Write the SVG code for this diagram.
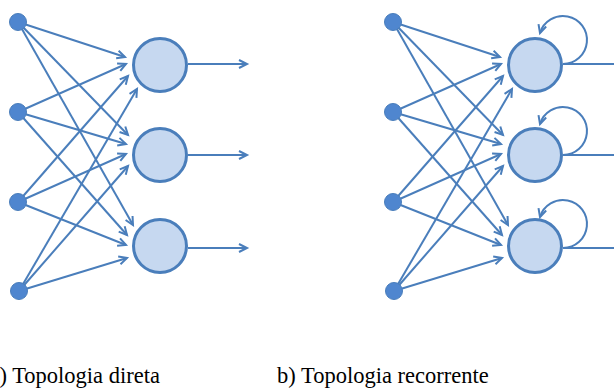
<svg xmlns="http://www.w3.org/2000/svg" width="614" height="390" viewBox="0 0 614 390">
  <style>
    .edge { fill: none; stroke: #4a7ebb; stroke-width: 2; }
    .arr { marker-end: url(#head); }
    .inp { fill: #4f86cf; stroke: #4a7ebb; stroke-width: 1; }
    .neu { fill: #c6d8f0; stroke: #4a7ebb; stroke-width: 3; }
    .cap { font-size: 22.5px; fill: #000; }
  </style>
  <defs>
    <marker id="head" markerUnits="userSpaceOnUse" markerWidth="12" markerHeight="12" refX="9" refY="5" orient="auto">
      <path d="M1,1 L9,5 L1,9" fill="none" stroke="#4a7ebb" stroke-width="2" stroke-linejoin="miter"/>
    </marker>
  </defs>

  <!-- connectors -->
  <g id="connectors" class="edge">
    <!-- a) feed-forward -->
    <g class="arr">
      <line x1="18" y1="22" x2="125" y2="57"/>
      <line x1="18" y1="112" x2="126" y2="64"/>
      <line x1="18" y1="202" x2="128" y2="76"/>
      <line x1="19" y1="291" x2="137" y2="89"/>
      <line x1="18" y1="22" x2="128" y2="135"/>
      <line x1="18" y1="112" x2="126" y2="144"/>
      <line x1="18" y1="202" x2="126" y2="154"/>
      <line x1="19" y1="291" x2="128" y2="166"/>
      <line x1="18" y1="22" x2="133" y2="225"/>
      <line x1="18" y1="112" x2="127" y2="235"/>
      <line x1="18" y1="202" x2="126" y2="245"/>
      <line x1="19" y1="291" x2="127" y2="258"/>
      <line x1="188" y1="64" x2="247" y2="64"/>
      <line x1="188" y1="155" x2="247" y2="155"/>
      <line x1="188" y1="248" x2="247" y2="248"/>
    </g>
    <!-- b) recurrent -->
    <g class="arr">
      <line x1="393" y1="22" x2="500" y2="57"/>
      <line x1="393" y1="112" x2="501" y2="64"/>
      <line x1="393" y1="202" x2="503" y2="76"/>
      <line x1="394" y1="291" x2="512" y2="89"/>
      <line x1="393" y1="22" x2="503" y2="135"/>
      <line x1="393" y1="112" x2="501" y2="144"/>
      <line x1="393" y1="202" x2="501" y2="154"/>
      <line x1="394" y1="291" x2="503" y2="166"/>
      <line x1="393" y1="22" x2="508" y2="225"/>
      <line x1="393" y1="112" x2="502" y2="235"/>
      <line x1="393" y1="202" x2="501" y2="245"/>
      <line x1="394" y1="291" x2="502" y2="258"/>
      <path d="M563,64 A24,24 0 1 0 540,33"/>
      <path d="M563,155 A24,24 0 1 0 540,124"/>
      <path d="M563,248 A24,24 0 1 0 540,217"/>
    </g>
    <line x1="563" y1="64" x2="614" y2="64"/>
    <line x1="563" y1="155" x2="614" y2="155"/>
    <line x1="563" y1="248" x2="614" y2="248"/>
  </g>

  <!-- a) nodes -->
  <g id="a-in1"><circle class="inp" cx="18" cy="22" r="8.5"/></g>
  <g id="a-in2"><circle class="inp" cx="18" cy="112" r="8.5"/></g>
  <g id="a-in3"><circle class="inp" cx="18" cy="202" r="8.5"/></g>
  <g id="a-in4"><circle class="inp" cx="19" cy="291" r="8.5"/></g>
  <g id="a-n1"><circle class="neu" cx="160" cy="65" r="26.5"/></g>
  <g id="a-n2"><circle class="neu" cx="160" cy="155" r="26.5"/></g>
  <g id="a-n3"><circle class="neu" cx="160" cy="246" r="26.5"/></g>

  <!-- b) nodes -->
  <g id="b-in1"><circle class="inp" cx="393" cy="22" r="8.5"/></g>
  <g id="b-in2"><circle class="inp" cx="393" cy="112" r="8.5"/></g>
  <g id="b-in3"><circle class="inp" cx="393" cy="202" r="8.5"/></g>
  <g id="b-in4"><circle class="inp" cx="394" cy="291" r="8.5"/></g>
  <g id="b-n1"><circle class="neu" cx="535" cy="65" r="26.5"/></g>
  <g id="b-n2"><circle class="neu" cx="535" cy="155" r="26.5"/></g>
  <g id="b-n3"><circle class="neu" cx="535" cy="246" r="26.5"/></g>

  <!-- captions -->
  <text class="cap" font-family="Liberation Serif, DejaVu Serif, serif" x="-10.5" y="383">a) Topologia direta</text>
  <text class="cap" font-family="Liberation Serif, DejaVu Serif, serif" x="277" y="383">b) Topologia recorrente</text>
</svg>
